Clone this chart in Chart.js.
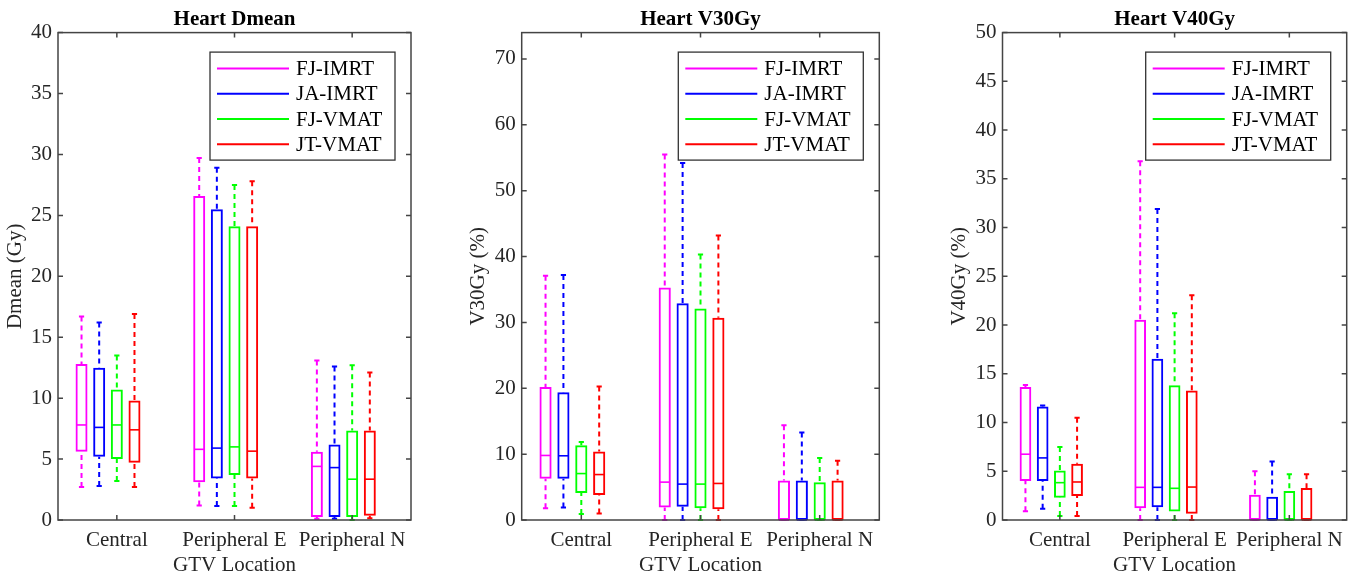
<!DOCTYPE html>
<html>
<head>
<meta charset="utf-8">
<script src="https://cdn.jsdelivr.net/npm/chart.js@4.4.1/dist/chart.umd.min.js"></script>
<style>
    html, body { margin: 0; padding: 0; background: #fff; }
    #wrap { position: relative; width: 1360px; height: 577px; overflow: hidden; }
    .panel { position: absolute; top: 0; }
</style>
</head>
<body>
<div id="wrap">
    <div class="panel" style="left:0px"><canvas id="dmeanChart" width="440" height="577"></canvas></div>
    <div class="panel" style="left:460px"><canvas id="v30Chart" width="440" height="577"></canvas></div>
    <div class="panel" style="left:920px"><canvas id="v40Chart" width="440" height="577"></canvas></div>
</div>
<script>
const categories = ["Central", "Peripheral E", "Peripheral N"];
const plans = ["FJ-IMRT", "JA-IMRT", "FJ-VMAT", "JT-VMAT"];
const planColors = ["#ff00ff", "#0000ff", "#00ff00", "#ff0000"];

// each entry: [lower whisker, Q1, median, Q3, upper whisker]
const dmeanFJIMRT = [[2.7, 5.6, 7.8, 12.8, 16.7], [1.2, 3.1, 5.8, 26.6, 29.7], [0.1, 0.25, 4.4, 5.6, 13.1]];
const dmeanJAIMRT = [[2.8, 5.2, 7.6, 12.5, 16.2], [1.15, 3.4, 5.9, 25.5, 28.9], [0.1, 0.25, 4.3, 6.2, 12.6]];
const dmeanFJVMAT = [[3.2, 5.0, 7.8, 10.7, 13.5], [1.15, 3.7, 6.0, 24.1, 27.5], [0.0, 0.25, 3.35, 7.35, 12.7]];
const dmeanJTVMAT = [[2.7, 4.7, 7.4, 9.8, 16.9], [1.0, 3.4, 5.65, 24.1, 27.8], [0.15, 0.35, 3.35, 7.35, 12.1]];

const v30FJIMRT = [[1.8, 6.25, 9.8, 20.2, 37.1], [0, 1.9, 5.75, 35.3, 55.5], [0, 0, 0, 6.0, 14.4]];
const v30JAIMRT = [[1.9, 6.25, 9.75, 19.4, 37.2], [0, 2.0, 5.45, 32.9, 54.2], [0, 0, 0, 6.0, 13.3]];
const v30FJVMAT = [[0.9, 4.1, 7.05, 11.35, 11.85], [0, 1.8, 5.45, 32.1, 40.3], [0, 0, 0, 5.75, 9.4]];
const v30JTVMAT = [[1.0, 3.8, 6.9, 10.4, 20.25], [0, 1.65, 5.55, 30.7, 43.2], [0, 0, 0, 6.0, 9.0]];

const v40FJIMRT = [[0.9, 4.0, 6.75, 13.65, 13.85], [0, 1.2, 3.35, 20.55, 36.8], [0, 0, 0, 2.6, 5.0]];
const v40JAIMRT = [[1.15, 4.0, 6.37, 11.65, 11.75], [0, 1.3, 3.35, 16.55, 31.9], [0, 0, 0, 2.38, 6.0]];
const v40FJVMAT = [[0.4, 2.27, 3.83, 5.07, 7.5], [0, 0.86, 3.25, 13.82, 21.2], [0, 0, 0, 2.98, 4.7]];
const v40JTVMAT = [[0.4, 2.45, 3.9, 5.78, 10.48], [0, 0.63, 3.38, 13.28, 23.05], [0, 0, 0, 3.27, 4.7]];

const serif = "'Liberation Serif', 'Times New Roman', serif";

// whisker lines, caps and median lines on top of the floating bars
const boxWhiskers = {
    id: "boxWhiskers",
    afterDatasetsDraw(chart) {
        const ctx = chart.ctx;
        const yScale = chart.scales.y;
        ctx.save();
        chart.data.datasets.forEach(function (ds, i) {
            if (!ds.stats) return;
            const meta = chart.getDatasetMeta(i);
            meta.data.forEach(function (bar, j) {
                const s = ds.stats[j];
                const x = bar.x;
                const half = bar.width / 2;
                const capHalf = 2.6;
                const yLo = yScale.getPixelForValue(s[0]);
                const yQ1 = yScale.getPixelForValue(s[1]);
                const yMed = yScale.getPixelForValue(s[2]);
                const yQ3 = yScale.getPixelForValue(s[3]);
                const yHi = yScale.getPixelForValue(s[4]);
                ctx.strokeStyle = ds.borderColor;
                ctx.lineWidth = 2;

                ctx.setLineDash([5, 4]);
                ctx.beginPath();
                ctx.moveTo(x, yHi);
                ctx.lineTo(x, yQ3);
                ctx.moveTo(x, yLo);
                ctx.lineTo(x, yQ1);
                ctx.stroke();

                ctx.setLineDash([]);
                ctx.beginPath();
                ctx.moveTo(x - capHalf, yHi);
                ctx.lineTo(x + capHalf, yHi);
                ctx.moveTo(x - capHalf, yLo);
                ctx.lineTo(x + capHalf, yLo);
                ctx.stroke();

                ctx.lineWidth = 1.6;
                ctx.beginPath();
                ctx.moveTo(x - half + 1, yMed);
                ctx.lineTo(x + half - 1, yMed);
                ctx.stroke();
            });
        });
        ctx.restore();
    },
};

// axes box with inward tick marks
const axesFrame = {
    id: "axesFrame",
    afterDraw(chart) {
        const ctx = chart.ctx;
        const a = chart.chartArea;
        const tl = 5;
        ctx.save();
        ctx.strokeStyle = "#444";
        ctx.lineWidth = 1.5;
        ctx.strokeRect(a.left, a.top, a.right - a.left, a.bottom - a.top);
        ctx.beginPath();
        chart.scales.y.ticks.forEach(function (t) {
            const y = chart.scales.y.getPixelForValue(t.value);
            ctx.moveTo(a.left, y);
            ctx.lineTo(a.left + tl, y);
            ctx.moveTo(a.right, y);
            ctx.lineTo(a.right - tl, y);
        });
        categories.forEach(function (c, i) {
            const x = chart.scales.x.getPixelForValue(i);
            ctx.moveTo(x, a.bottom);
            ctx.lineTo(x, a.bottom - tl);
            ctx.moveTo(x, a.top);
            ctx.lineTo(x, a.top + tl);
        });
        ctx.stroke();
        ctx.restore();
    },
};

// legend box in the upper right corner of the axes
const boxLegend = {
    id: "boxLegend",
    afterDraw(chart) {
        const ctx = chart.ctx;
        const a = chart.chartArea;
        const w = 185, h = 108;
        const left = a.right - 16 - w;
        const top = a.top + 19.5;
        ctx.save();
        ctx.fillStyle = "#fff";
        ctx.fillRect(left, top, w, h);
        ctx.strokeStyle = "#333";
        ctx.lineWidth = 1.3;
        ctx.strokeRect(left, top, w, h);
        ctx.font = "21px " + serif;
        ctx.textBaseline = "middle";
        ctx.textAlign = "left";
        let k = 0;
        chart.data.datasets.forEach(function (ds) {
            if (!ds.stats) return;
            const y = top + 16.5 + k * 25.2;
            ctx.strokeStyle = ds.borderColor;
            ctx.lineWidth = 2;
            ctx.beginPath();
            ctx.moveTo(left + 7, y);
            ctx.lineTo(left + 79, y);
            ctx.stroke();
            ctx.fillStyle = "#000";
            ctx.fillText(ds.label, left + 86, y + 1);
            k++;
        });
        ctx.restore();
    },
};

function renderBoxChart(canvasId, title, yLabel, yMax, yStep, stats, yWidth, yTitlePad, padRight) {
    const datasets = plans.map(function (p, i) {
        return {
            label: p,
            data: stats[i].map(function (s) { return [s[1], s[3]]; }),
            stats: stats[i],
            borderColor: planColors[i],
            backgroundColor: "rgba(0,0,0,0)",
            borderWidth: 2,
            borderSkipped: false,
            categoryPercentage: 0.75,
            barPercentage: 0.68,
        };
    });
    // empty slot so that the group sits like the original (third box on the tick)
    datasets.push({
        label: "",
        data: [null, null, null],
        backgroundColor: "rgba(0,0,0,0)",
        borderWidth: 0,
        categoryPercentage: 0.75,
        barPercentage: 0.68,
    });

    new Chart(document.getElementById(canvasId), {
        type: "bar",
        data: { labels: categories, datasets: datasets },
        plugins: [boxWhiskers, axesFrame, boxLegend],
        options: {
            responsive: false,
            devicePixelRatio: 1,
            animation: false,
            events: [],
            layout: { padding: { left: 0, right: padRight, top: 0, bottom: 0 } },
            plugins: {
                legend: { display: false },
                tooltip: { enabled: false },
                title: {
                    display: true,
                    text: title,
                    fullSize: false,
                    color: "#000",
                    font: { family: serif, size: 21, weight: "bold", lineHeight: 1.2 },
                    padding: { top: 7, bottom: 0.4 },
                },
            },
            scales: {
                x: {
                    type: "category",
                    grid: { display: false, drawTicks: false },
                    border: { display: false },
                    ticks: {
                        color: "#262626",
                        font: { family: serif, size: 21, lineHeight: 1.2 },
                        padding: 8,
                        maxRotation: 0,
                        autoSkip: false,
                    },
                    title: {
                        display: true,
                        text: "GTV Location",
                        color: "#262626",
                        font: { family: serif, size: 21, lineHeight: 1.1 },
                        padding: { top: 0, bottom: 0 },
                    },
                    afterFit: function (scale) {
                        scale.height = 57;
                    },
                },
                y: {
                    type: "linear",
                    min: 0,
                    max: yMax,
                    grid: { display: false, drawTicks: false },
                    border: { display: false },
                    ticks: {
                        stepSize: yStep,
                        includeBounds: false,
                        color: "#262626",
                        font: { family: serif, size: 21, lineHeight: 1.2 },
                        padding: 6,
                    },
                    title: {
                        display: true,
                        text: yLabel,
                        color: "#262626",
                        font: { family: serif, size: 21, lineHeight: 1.2 },
                        padding: { top: yTitlePad, bottom: 0 },
                    },
                    afterFit: function (scale) {
                        scale.width = yWidth;
                    },
                },
            },
        },
    });
}

renderBoxChart("dmeanChart", "Heart Dmean", "Dmean (Gy)", 40, 5,
    [dmeanFJIMRT, dmeanJAIMRT, dmeanFJVMAT, dmeanJTVMAT], 58, 2.4, 29);
renderBoxChart("v30Chart", "Heart V30Gy", "V30Gy (%)", 74, 10,
    [v30FJIMRT, v30JAIMRT, v30FJVMAT, v30JTVMAT], 61.7, 5.4, 20.7);
renderBoxChart("v40Chart", "Heart V40Gy", "V40Gy (%)", 50, 5,
    [v40FJIMRT, v40JAIMRT, v40FJVMAT, v40JTVMAT], 82.5, 26.4, 13.3);
</script>
</body>
</html>
